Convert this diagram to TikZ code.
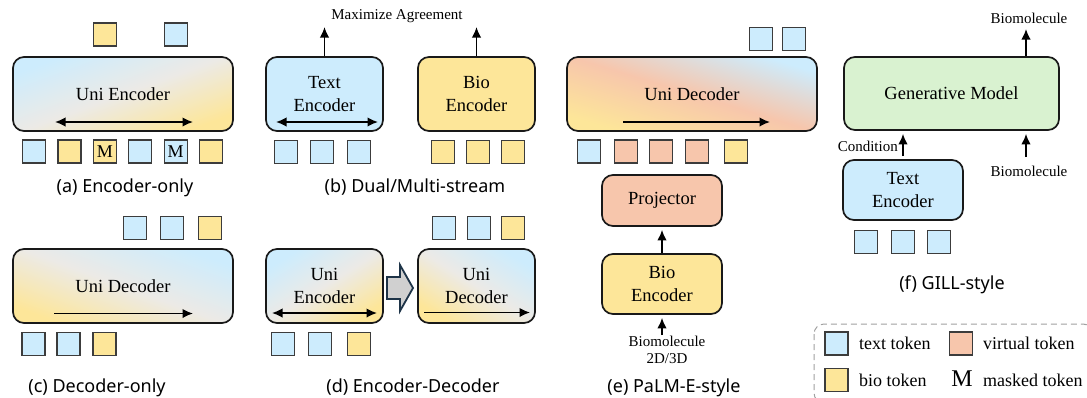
\documentclass[tikz,border=0pt]{standalone}
\usepackage{fontspec}
\setmainfont{Liberation Serif}
\newfontfamily\capfam{Noto Sans}
\usetikzlibrary{arrows.meta}
\definecolor{tblue}{RGB}{205,236,253}
\definecolor{byellow}{RGB}{253,230,153}
\definecolor{vsalmon}{RGB}{247,198,172}
\definecolor{ggreen}{RGB}{217,242,208}
\definecolor{midgray}{RGB}{236,234,230}
\definecolor{boxline}{RGB}{25,25,25}
\definecolor{tokline}{RGB}{60,60,60}
\definecolor{navyline}{RGB}{30,52,72}
\definecolor{blkfill}{RGB}{208,208,208}
\definecolor{legline}{RGB}{160,160,160}
\tikzset{
  tok/.style={draw=tokline, line width=1.2pt, minimum size=23pt, inner sep=0pt, font=\fontsize{18}{18}\selectfont},
  tt/.style={tok, fill=tblue},
  bt/.style={tok, fill=byellow},
  vt/.style={tok, fill=vsalmon},
  modbox/.style={draw=boxline, line width=1.7pt, rounded corners=11pt, inner sep=0pt, align=center, font=\fontsize{18.5}{22.5}\selectfont},
  arr/.style={-{Latex[length=10.5pt,width=9.5pt]}, line width=1.7pt},
  darr/.style={{Latex[length=10.5pt,width=9.5pt]}-{Latex[length=10.5pt,width=9.5pt]}, line width=1.7pt},
  capt/.style={font=\capfam\fontsize{18}{20}\selectfont, anchor=base},
  lbl/.style={font=\fontsize{15}{17}\selectfont, inner sep=0pt, align=center},
  legtxt/.style={font=\fontsize{18}{20}\selectfont, anchor=west, inner sep=0pt},
}
\begin{document}
\begin{tikzpicture}[x=1pt,y=-1pt]
\useasboundingbox (0,0) rectangle (1087,397);
\clip (0,0) rectangle (1087,397);

% ---------------- (a) Encoder-only
\node[modbox, minimum width=220pt, minimum height=74pt,
  top color=tblue, bottom color=byellow, middle color=midgray, shading angle=20] (aBox) at (123,94) {Uni Encoder};
\coordinate (aL) at (55,122);
\coordinate (aR) at (193,122);
\draw[darr] (aL) -- (aR);
\node[bt] (aT1) at (104.8,34.5) {};
\node[tt] (aT2) at (175.6,34.5) {};
\node[tt] (aB1) at (34,151.5) {};
\node[bt] (aB2) at (69.4,151.5) {};
\node[bt] (aB3) at (104.8,151.5) {M};
\node[tt] (aB4) at (140.2,151.5) {};
\node[tt] (aB5) at (175.6,151.5) {M};
\node[bt] (aB6) at (211,151.5) {};
\node[capt] (aCap) at (125,192) {(a) Encoder-only};

% ---------------- (b) Dual/Multi-stream
\node[modbox, fill=tblue, minimum width=117pt, minimum height=74pt] (bText) at (324.5,94) {Text\\Encoder};
\node[modbox, fill=byellow, minimum width=117pt, minimum height=74pt] (bBio) at (476.5,94) {Bio\\Encoder};
\coordinate (bL) at (276,122);
\coordinate (bR) at (378,122);
\draw[darr] (bL) -- (bR);
\coordinate (bOut1) at (324.5,27);
\coordinate (bOut2) at (476.5,27);
\draw[arr] (bText.north) -- (bOut1);
\draw[arr] (bBio.north) -- (bOut2);
\node[lbl] (maxag) at (397,16) {Maximize Agreement};
\node[tt] (bB1) at (286,152) {};
\node[tt] (bB2) at (322,152) {};
\node[tt] (bB3) at (359,152) {};
\node[bt] (bB4) at (443,152) {};
\node[bt] (bB5) at (478,152) {};
\node[bt] (bB6) at (513,152) {};
\node[capt] (bCap) at (415,192) {(b) Dual/Multi-stream};

% ---------------- (c) Decoder-only
\node[modbox, minimum width=220pt, minimum height=74pt,
  top color=tblue, bottom color=byellow, middle color=midgray, shading angle=-20] (cBox) at (123,286) {Uni Decoder};
\coordinate (cL) at (54,313.5);
\coordinate (cR) at (193,313.5);
\draw[arr] (cL) -- (cR);
\node[tt] (cT1) at (135,228) {};
\node[tt] (cT2) at (172,228) {};
\node[bt] (cT3) at (210,228) {};
\node[tt] (cB1) at (33.5,344) {};
\node[tt] (cB2) at (68.5,344) {};
\node[bt] (cB3) at (104.5,344) {};
\node[capt] (cCap) at (97,392) {(c) Decoder-only};

% ---------------- (d) Encoder-Decoder
\node[modbox, minimum width=117pt, minimum height=74pt,
  top color=tblue, bottom color=byellow, middle color=midgray, shading angle=32] (dEnc) at (324.5,286) {Uni\\Encoder};
\node[modbox, minimum width=117pt, minimum height=74pt,
  top color=tblue, bottom color=byellow, middle color=midgray, shading angle=-32] (dDec) at (476.5,286) {Uni\\Decoder};
\coordinate (dL1) at (272,313);
\coordinate (dR1) at (377,313);
\draw[darr] (dL1) -- (dR1);
\coordinate (dL2) at (424,312.5);
\coordinate (dR2) at (530,312.5);
\draw[arr] (dL2) -- (dR2);
\draw[draw=navyline, fill=blkfill, line width=1.8pt, line join=miter]
  (387,277) -- (400,277) -- (400,265) -- (413,288) -- (400,311) -- (400,299) -- (387,299) -- cycle;
\node[tt] (dT1) at (444,228) {};
\node[tt] (dT2) at (479,228) {};
\node[bt] (dT3) at (513,228) {};
\node[tt] (dB1) at (283,344) {};
\node[tt] (dB2) at (320,344) {};
\node[bt] (dB3) at (359,344) {};
\node[capt] (dCap) at (413,392) {(d) Encoder-Decoder};

% ---------------- (e) PaLM-E-style
\node[modbox, minimum width=250pt, minimum height=74pt,
  top color=tblue, bottom color=byellow, middle color=vsalmon, shading angle=-17] (eDec) at (692,94) {Uni Decoder};
\coordinate (eL) at (623,122);
\coordinate (eR) at (770,122);
\draw[arr] (eL) -- (eR);
\node[tt] (eT1) at (761,39) {};
\node[tt] (eT2) at (794,39) {};
\node[tt] (eB1) at (589,151.5) {};
\node[vt] (eB2) at (626,151.5) {};
\node[vt] (eB3) at (661,151.5) {};
\node[vt] (eB4) at (697,151.5) {};
\node[bt] (eB5) at (736,151.5) {};
\node[modbox, fill=vsalmon, minimum width=120pt, minimum height=51pt] (eProj) at (662,200.5) {Projector};
\node[modbox, fill=byellow, minimum width=120pt, minimum height=60pt] (eBio) at (662,284) {Bio\\Encoder};
\draw[arr, shorten >=3pt] (eBio.north) -- (eProj.south);
\coordinate (eIn) at (662,335);
\draw[arr, shorten >=3pt] (eIn) -- (eBio.south);
\node[lbl, anchor=north] (eLbl) at (667,336) {Biomolecule\\2D/3D};
\node[capt] (eCap) at (674,392) {(e) PaLM-E-style};

% ---------------- (f) GILL-style
\node[modbox, fill=ggreen, minimum width=215pt, minimum height=73pt] (fGen) at (951.5,93.5) {Generative Model};
\node[modbox, fill=tblue, minimum width=120pt, minimum height=60pt] (fText) at (903,190) {Text\\Encoder};
\coordinate (fOut) at (1026,29);
\draw[arr] (fOut |- fGen.north) -- (fOut);
\node[lbl] (fTopLbl) at (1029,18) {Biomolecule};
\draw[arr, shorten <=3pt, shorten >=3pt] (fText.north) -- (fText.north |- fGen.south);
\node[lbl, anchor=east] (fCond) at (898,146) {Condition};
\coordinate (fIn) at (1026,157);
\draw[arr, shorten >=3pt] (fIn) -- (fIn |- fGen.south);
\node[lbl] (fBotLbl) at (1029,171) {Biomolecule};
\node[tt] (fB1) at (866,242) {};
\node[tt] (fB2) at (903,242) {};
\node[tt] (fB3) at (939,242) {};
\node[capt] (fCap) at (952,289) {(f) GILL-style};

% ---------------- Legend
\draw[legline, line width=1pt, dash pattern=on 6pt off 4pt, rounded corners=10pt] (814,324) rectangle (1093,403);
\node[tt] (lgT) at (836.5,343.5) {};
\node[legtxt] (lgTt) at (859,343.5) {text token};
\node[vt] (lgV) at (961,343.5) {};
\node[legtxt] (lgVt) at (983,343.5) {virtual token};
\node[bt] (lgB) at (836.5,380) {};
\node[legtxt] (lgBt) at (859,380) {bio token};
\node[font=\fontsize{24}{24}\selectfont, inner sep=0pt] (lgM) at (962,379) {M};
\node[legtxt] (lgMt) at (983,380) {masked token};
\end{tikzpicture}
\end{document}
